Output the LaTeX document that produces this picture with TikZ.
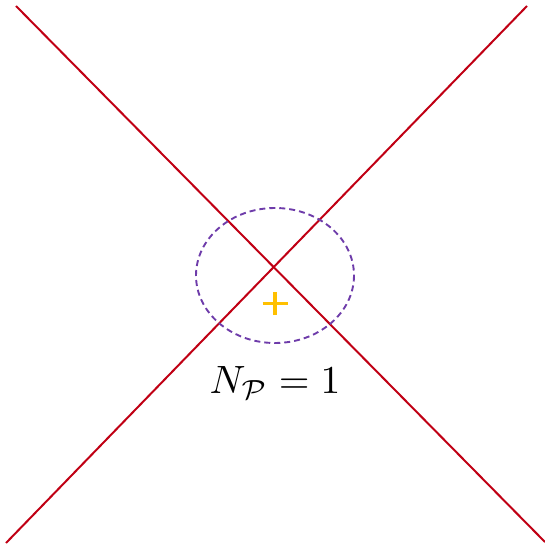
\documentclass[tikz,border=0pt]{standalone}
\usepackage{amsmath}
\definecolor{linered}{RGB}{192,0,20}
\definecolor{ellpurple}{RGB}{110,60,170}
\definecolor{plusgold}{RGB}{255,192,0}
\tikzset{
  redline/.style={draw=linered, line width=2pt},
  dashring/.style={draw=ellpurple, line width=1.9pt, dash pattern=on 6pt off 4pt},
  plusmark/.style={draw=plusgold, line width=3.4pt},
  label/.style={scale=3.95, inner sep=0pt}
}
\begin{document}
\begin{tikzpicture}[x=1pt,y=-1pt]
\useasboundingbox (0,0) rectangle (545,548);
\coordinate (tl) at (16,6);
\coordinate (br) at (545,542);
\coordinate (tr) at (527,6);
\coordinate (bl) at (6,543);
\draw[redline] (tl) -- (br);
\draw[redline] (tr) -- (bl);
\draw[dashring] (275,275.5) ellipse [x radius=79, y radius=67.5];
\coordinate (pc) at (275,303.5);
\draw[plusmark] ([xshift=-12.5pt]pc) -- ([xshift=12.5pt]pc);
\draw[plusmark] ([yshift=-11.5pt]pc) -- ([yshift=11.5pt]pc);
\node[label] (np) at (275,383) {$N_{\mathcal{P}} = 1$};
\end{tikzpicture}
\end{document}
